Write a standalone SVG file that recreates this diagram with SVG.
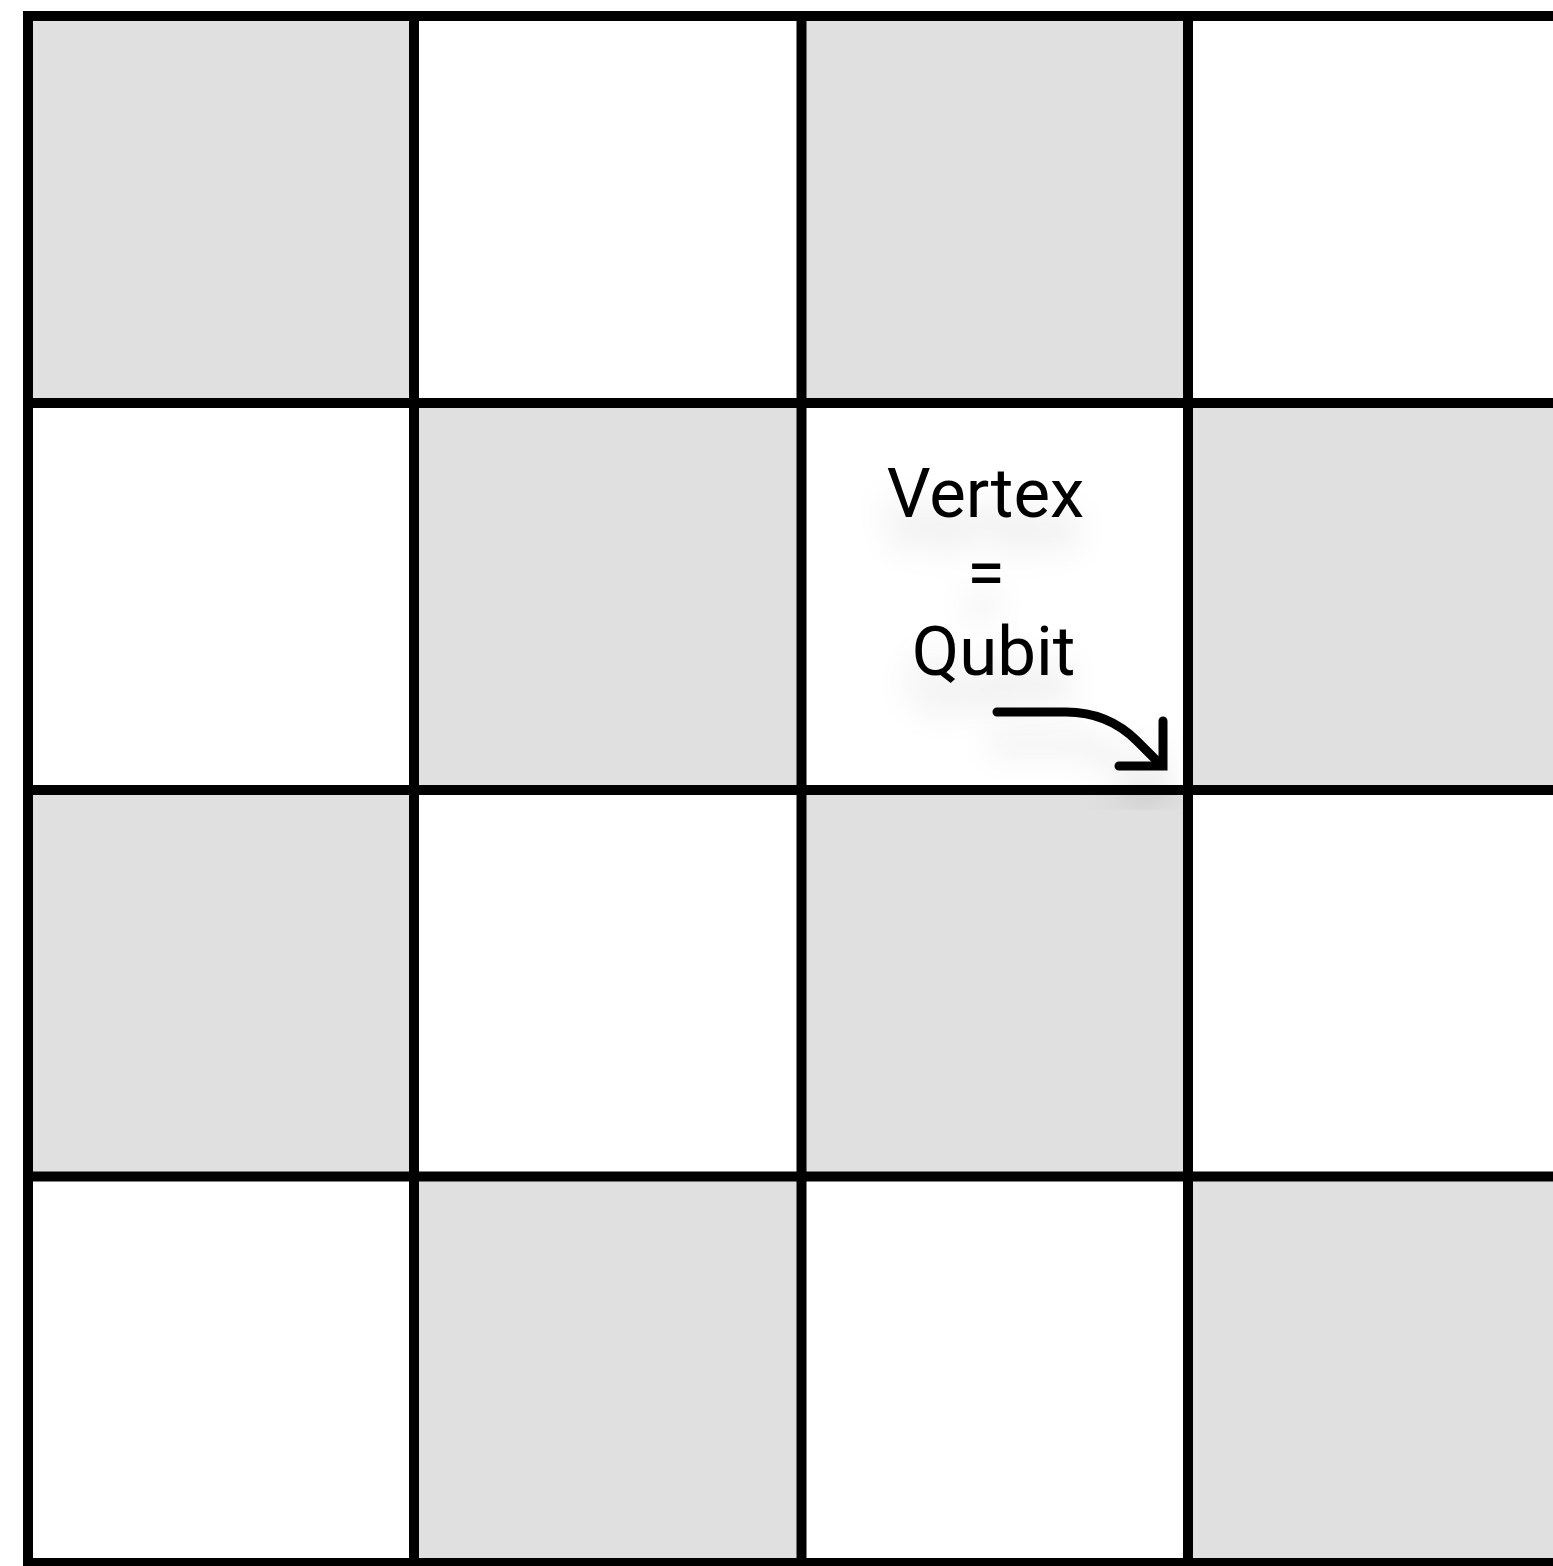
<svg xmlns="http://www.w3.org/2000/svg" width="1553" height="1566" viewBox="0 0 1553 1566">
  <style>
    .g { fill: #e0e0e0; }
    .ln { stroke: #000; stroke-width: 10; fill: none; }
    .lbl { font-family: Roboto, "Liberation Sans", sans-serif; font-size: 69px; fill: #000; text-anchor: middle; }
    .arr { stroke: #000; stroke-width: 9; fill: none; stroke-linecap: round; }
  </style>
  <defs>
    <filter id="sh" x="-40%" y="-40%" width="180%" height="220%">
      <feDropShadow dx="-4" dy="32" stdDeviation="16" flood-color="#000" flood-opacity="0.14"/>
    </filter>
  </defs>
  <rect x="0" y="0" width="1553" height="1566" fill="#fff"/>
  <g id="cells">
    <rect class="g" x="28" y="16" width="386" height="387"/>
    <rect class="g" x="801" y="16" width="387" height="387"/>
    <rect class="g" x="414" y="403" width="387" height="387"/>
    <rect class="g" x="1188" y="403" width="365" height="387"/>
    <rect class="g" x="28" y="790" width="386" height="386"/>
    <rect class="g" x="801" y="790" width="387" height="386"/>
    <rect class="g" x="414" y="1176" width="387" height="387"/>
    <rect class="g" x="1188" y="1176" width="365" height="387"/>
  </g>
  <g id="grid">
    <line class="ln" x1="28" y1="11" x2="28" y2="1568"/>
    <line class="ln" x1="414" y1="11" x2="414" y2="1568"/>
    <line class="ln" x1="801.5" y1="11" x2="801.5" y2="1568"/>
    <line class="ln" x1="1188" y1="11" x2="1188" y2="1568"/>
    <line class="ln" x1="23" y1="16" x2="1553" y2="16"/>
    <line class="ln" x1="23" y1="403" x2="1553" y2="403"/>
    <line class="ln" x1="23" y1="790" x2="1553" y2="790"/>
    <line class="ln" x1="23" y1="1176.5" x2="1553" y2="1176.5"/>
    <line class="ln" x1="23" y1="1563" x2="1553" y2="1563"/>
  </g>
  <g id="label" filter="url(#sh)">
    <text class="lbl" x="985.5" y="517">Vertex</text>
    <text class="lbl" x="986" y="596">=</text>
    <text class="lbl" x="993.5" y="675">Qubit</text>
  </g>
  <g id="connectors" filter="url(#sh)">
    <path class="arr" d="M997,712 H1066 C1094,712 1117,721 1137,741 L1160,764" stroke-linecap="butt"/>
    <path class="arr" d="M1163,721 V766 H1119" stroke-linejoin="miter"/>
  </g>
</svg>
